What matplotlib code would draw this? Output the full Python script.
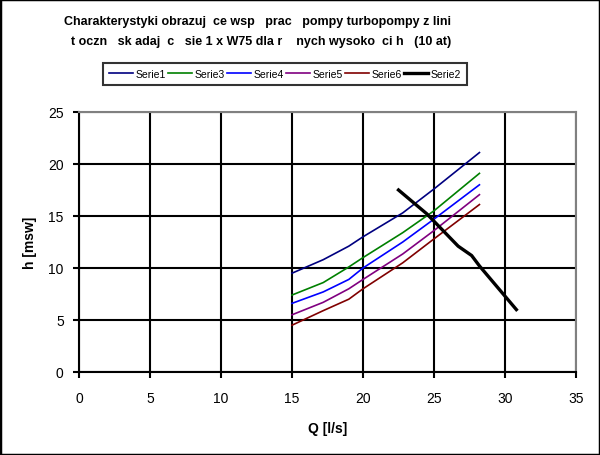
import matplotlib.pyplot as plt
from matplotlib.patches import Rectangle

plt.rcParams['font.family'] = ['Liberation Sans', 'DejaVu Sans']

TITLE_1 = "Charakterystyki obrazuj  ce wsp   prac   pompy turbopompy z lini"
TITLE_2 = "t oczn   sk adaj  c   sie 1 x W75 dla r    nych wysoko  ci h   (10 at)"

# pump curves (Q [l/s], h [msw])
q_pump = [15.0, 17.2, 19.0, 20.0, 22.8, 25.0, 28.2]
serie1 = [9.5, 10.8, 12.1, 13.0, 15.3, 17.6, 21.1]
serie3 = [7.4, 8.6, 10.1, 11.0, 13.4, 15.5, 19.1]
serie4 = [6.6, 7.7, 8.9, 10.0, 12.5, 14.7, 18.0]
serie5 = [5.5, 6.7, 8.0, 8.9, 11.35, 13.6, 17.05]
serie6 = [4.5, 5.9, 7.0, 8.0, 10.5, 12.8, 16.1]

# pipeline curve
q_line = [22.5, 24.5, 26.7, 27.65, 28.2, 30.8]
serie2 = [17.5, 15.2, 12.1, 11.2, 10.2, 6.0]

fig = plt.figure(figsize=(6, 4.56), dpi=100)
ax = fig.add_axes([79 / 600, 1 - 373 / 456, 497 / 600, 260 / 456])

ax.plot(q_pump, serie1, color='#000080', lw=1.2, label='Serie1')
ax.plot(q_pump, serie3, color='#008000', lw=1.2, label='Serie3')
ax.plot(q_pump, serie4, color='#0000ff', lw=1.2, label='Serie4')
ax.plot(q_pump, serie5, color='#800080', lw=1.2, label='Serie5')
ax.plot(q_pump, serie6, color='#800000', lw=1.2, label='Serie6')
ax.plot(q_line, serie2, color='black', lw=2.4, label='Serie2')

ax.set_xlim(0, 35)
ax.set_ylim(0, 25)
ax.set_xticks(range(0, 36, 5))
ax.set_yticks(range(0, 26, 5))
ax.grid(True, color='black', lw=1.5)
ax.set_axisbelow(True)
ax.tick_params(labelsize=10, length=4, width=1.5, direction='out')
ax.tick_params(axis='y', pad=7)
ax.tick_params(axis='x', pad=10)
for s in ['left', 'bottom']:
    ax.spines[s].set_linewidth(1.5)
for s in ['top', 'right']:
    ax.spines[s].set_color('#808080')
    ax.spines[s].set_linewidth(1.5)

ax.set_xlabel('Q [l/s]', fontsize=10, fontweight='bold', labelpad=11)
ax.set_ylabel('h [msw]', fontsize=10, fontweight='bold', labelpad=8)

fig.text(257.5 / 600, 1 - 22 / 456, TITLE_1, ha='center', va='center',
         fontsize=9, fontweight='bold')
fig.text(261 / 600, 1 - 42 / 456, TITLE_2, ha='center', va='center',
         fontsize=9, fontweight='bold')

leg = fig.legend(loc='center', bbox_to_anchor=(285 / 600, 1 - 75 / 456), ncol=6,
                 fontsize=7.5, frameon=True, fancybox=False, handlelength=2.3,
                 handletextpad=0.25, columnspacing=0.2, borderpad=0.55)
leg.get_frame().set_edgecolor('black')
leg.get_frame().set_linewidth(1.5)

fig.patches.append(Rectangle((0, 0), 1, 1, transform=fig.transFigure, fill=False,
                             edgecolor='black', lw=2.5))

fig.savefig('out.png', dpi=100)
